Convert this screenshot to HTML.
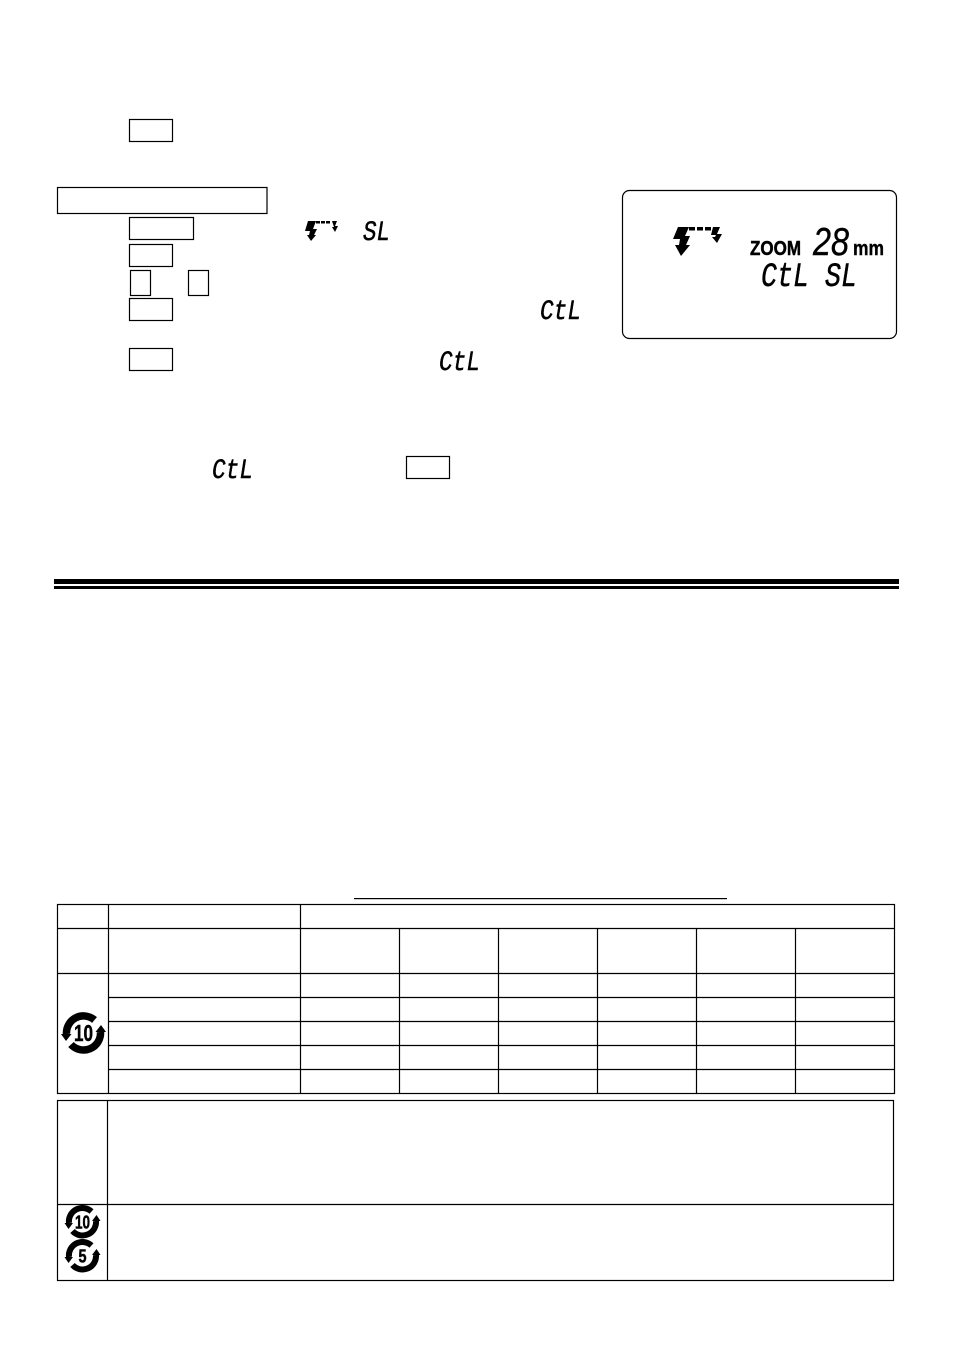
<!DOCTYPE html>
<html>
<head>
<meta charset="utf-8">
<style>
html,body{margin:0;padding:0;background:#fff;}
svg{display:block;}
text{font-family:"Liberation Sans",sans-serif;fill:#000;}
.lcd{font-family:"Liberation Mono",monospace;font-style:italic;stroke:#000;stroke-width:.5;}
.num{font-style:italic;stroke:#000;stroke-width:.4;}
.logo{stroke:#000;stroke-width:.5;}
</style>
</head>
<body>
<svg width="954" height="1356" viewBox="0 0 954 1356" xmlns="http://www.w3.org/2000/svg">
<rect width="954" height="1356" fill="#fff"/>

<!-- key boxes -->
<g fill="none" stroke="#000" stroke-width="1.2">
<rect x="129.5" y="119.5" width="43" height="22"/>
<rect x="57.5" y="187.5" width="209.5" height="26"/>
<rect x="129.5" y="217.5" width="64" height="22"/>
<rect x="129.5" y="244.5" width="43" height="22"/>
<rect x="130.5" y="270.5" width="20" height="25"/>
<rect x="188.5" y="270.5" width="20" height="25"/>
<rect x="129.5" y="298.5" width="43" height="22"/>
<rect x="129.5" y="348.5" width="43" height="22"/>
<rect x="406.5" y="456.5" width="43" height="22"/>
<rect x="622.5" y="190.5" width="274" height="148" rx="7" ry="7"/>
</g>

<!-- small inline LCD glyphs -->
<g fill="#000">
<polygon points="308,221 316,221 313,229 317,229 314,235 316,235 311,241 307,235 309,235 310,231 305,231"/>
<rect x="316" y="221" width="4" height="2.5"/><rect x="321" y="221" width="4" height="2.5"/><rect x="326" y="221" width="4" height="2.5"/>
<polygon points="332,221 337,221 335,226 338,226 335,232 332,227 334,227"/>
</g>
<text class="lcd" x="363" y="240" font-size="28" textLength="27" lengthAdjust="spacingAndGlyphs">SL</text>
<text class="lcd" x="540" y="319" font-size="28" textLength="41" lengthAdjust="spacingAndGlyphs">CtL</text>
<text class="lcd" x="439" y="370" font-size="28" textLength="41" lengthAdjust="spacingAndGlyphs">CtL</text>
<text class="lcd" x="212" y="478" font-size="28" textLength="41" lengthAdjust="spacingAndGlyphs">CtL</text>

<!-- LCD panel contents -->
<g fill="#000">
<polygon points="678,227 689,227 685,236 690,236 686,245 690,245 681,256 675,245 679,245 680,239 673,239"/>
<rect x="689" y="227" width="6" height="3.5"/><rect x="697" y="227" width="6" height="3.5"/><rect x="705" y="227" width="6" height="3.5"/>
<polygon points="713,227 720,227 717,234 722,234 717,243 712,237 715,237 716,235 711,235"/>
</g>
<text x="750" y="255" font-size="20" font-weight="bold" stroke="#000" stroke-width=".5" textLength="51" lengthAdjust="spacingAndGlyphs">ZOOM</text>
<text class="num" x="813" y="255" font-size="39" textLength="36" lengthAdjust="spacingAndGlyphs">28</text>
<text x="853" y="255" font-size="20" font-weight="bold" stroke="#000" stroke-width=".4" textLength="31" lengthAdjust="spacingAndGlyphs">mm</text>
<text class="lcd" x="761" y="286" font-size="34" textLength="96" lengthAdjust="spacingAndGlyphs" xml:space="preserve">CtL SL</text>

<!-- double rule -->
<rect x="54" y="579" width="845" height="5" fill="#000"/>
<rect x="54" y="586" width="845" height="3" fill="#000"/>

<!-- table title underline -->
<rect x="354" y="898" width="373" height="1.2" fill="#000"/>

<!-- main table -->
<g stroke="#000" stroke-width="1.2" fill="none">
<rect x="57.5" y="904.5" width="837" height="189"/>
<path d="M57.5 928.5H894.5M57.5 973.5H894.5M108.5 997.5H894.5M108.5 1021.5H894.5M108.5 1045.5H894.5M108.5 1069.5H894.5"/>
<path d="M108.5 904.5V1093.5M300.5 904.5V1093.5M399.5 928.5V1093.5M498.5 928.5V1093.5M597.5 928.5V1093.5M696.5 928.5V1093.5M795.5 928.5V1093.5"/>
<rect x="57.5" y="1100.5" width="836" height="180"/>
<path d="M57.5 1204.5H893.5M107.5 1100.5V1280.5"/>
</g>

<!-- recycling logos -->
<g transform="translate(83.5,1033)">
<path d="M11 -13A17 17 0 0 0 -17 1" fill="none" stroke="#000" stroke-width="7.5"/>
<path d="M-12.5 11.5A17 17 0 0 0 17 -1" fill="none" stroke="#000" stroke-width="7.5"/>
<polygon points="-22.5,1 -12,1 -17.5,8" fill="#000"/>
<polygon points="22.5,-1 12,-1 17.5,-8" fill="#000"/>
<text class="logo" x="-9.5" y="8" font-size="23" font-weight="bold" textLength="19" lengthAdjust="spacingAndGlyphs">10</text>
</g>
<g transform="translate(82.5,1222)">
<path d="M9 -10.5A13.5 13.5 0 0 0 -13.5 1" fill="none" stroke="#000" stroke-width="6"/>
<path d="M-10 9A13.5 13.5 0 0 0 13.5 -1" fill="none" stroke="#000" stroke-width="6"/>
<polygon points="-18,1 -9.5,1 -14,7" fill="#000"/>
<polygon points="18,-1 9.5,-1 14,-7" fill="#000"/>
<text class="logo" x="-7.5" y="6.5" font-size="18" font-weight="bold" textLength="15" lengthAdjust="spacingAndGlyphs">10</text>
</g>
<g transform="translate(82.5,1256)">
<path d="M9 -10.5A13.5 13.5 0 0 0 -13.5 1" fill="none" stroke="#000" stroke-width="6"/>
<path d="M-10 9A13.5 13.5 0 0 0 13.5 -1" fill="none" stroke="#000" stroke-width="6"/>
<polygon points="-18,1 -9.5,1 -14,7" fill="#000"/>
<polygon points="18,-1 9.5,-1 14,-7" fill="#000"/>
<text class="logo" x="-4" y="6.5" font-size="18" font-weight="bold" textLength="8" lengthAdjust="spacingAndGlyphs">5</text>
</g>
</svg>
</body>
</html>
